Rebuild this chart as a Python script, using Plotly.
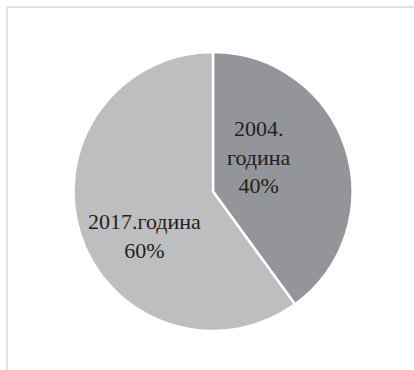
import plotly.graph_objects as go

labels = ["2004.<br>година", "2017.година"]
values = [40, 60]
pct_text = ["40%", "60%"]
colors = ["#939598", "#bcbec0"]
top_caption = "2017"

W, H = 414, 370

fig = go.Figure()
fig.add_trace(go.Pie(
    labels=labels,
    values=values,
    sort=False,
    direction="clockwise",
    rotation=0,
    textinfo="none",
    hoverinfo="label+percent",
    marker=dict(colors=colors, line=dict(color="white", width=2.5)),
    domain=dict(x=[73 / W, 353 / W], y=[1 - 331 / H, 1 - 52 / H]),
    showlegend=False,
))

font = dict(family="Liberation Serif", size=22, color="#231f20")
fig.add_annotation(x=293 / W, y=1 - 157 / H, xref="paper", yref="paper",
                   text=labels[0] + "<br>" + pct_text[0], showarrow=False,
                   font=font, align="center")
fig.add_annotation(x=144 / W, y=1 - 236 / H, xref="paper", yref="paper",
                   text=labels[1] + "<br>" + pct_text[1], showarrow=False,
                   font=font, align="center")
fig.add_annotation(x=-1 / W, y=1 + 2 / H, xref="paper", yref="paper",
                   text=top_caption, showarrow=False, xanchor="left", yanchor="bottom",
                   font=dict(family="Liberation Serif", size=20, color="#231f20"))

fig.add_shape(type="line", xref="paper", yref="paper",
              x0=7 / W, x1=1, y0=1 - 7 / H, y1=1 - 7 / H,
              line=dict(color="#d9d9d9", width=1.5))
fig.add_shape(type="line", xref="paper", yref="paper",
              x0=7 / W, x1=7 / W, y0=0, y1=1 - 7 / H,
              line=dict(color="#d9d9d9", width=1.5))

fig.update_layout(
    width=W, height=H,
    margin=dict(l=0, r=0, t=0, b=0),
    paper_bgcolor="white",
    plot_bgcolor="white",
)

fig.write_html("out.html")
